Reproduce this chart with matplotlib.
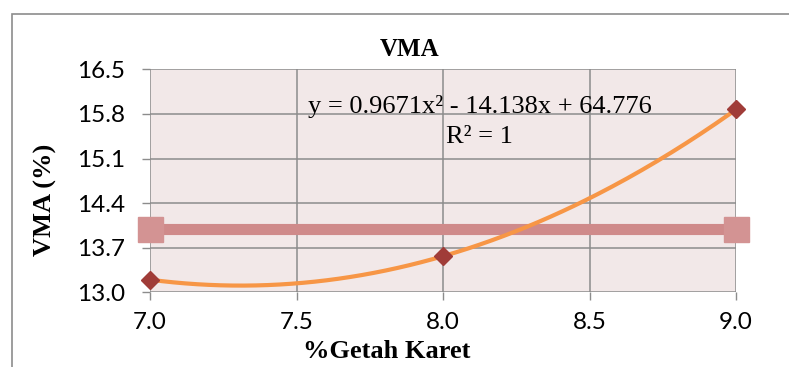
import numpy as np
import matplotlib
matplotlib.use("Agg")
import matplotlib.pyplot as plt
from matplotlib.patches import Rectangle

# data
getah = [7.0, 8.0, 9.0]
vma = [13.1979, 13.5664, 15.8691]
coef = [0.9671, -14.138, 64.776]
batas_x = [7.0, 9.0]
batas_y = [14.0, 14.0]
xticks = [7.0, 7.5, 8.0, 8.5, 9.0]
yticks = [13.0, 13.7, 14.4, 15.1, 15.8, 16.5]

serif = 'Liberation Serif'
tickfont = 'Lato'
grid_c = '#8c8c8c'

fig = plt.figure(figsize=(7.89, 3.67), dpi=100)
ax = fig.add_axes([150/789, 1 - 292.3/367, 586/789, 223/367])
ax.set_facecolor('#f2e8e8')

# outer chart border (only left/top fall inside the image)
fig.patches.append(Rectangle((12/789, -0.2), 1.2, 1.2 - 14/367, transform=fig.transFigure,
                             fill=False, edgecolor=grid_c, linewidth=1.2))

ax.set_xlim(7.0, 9.0)
ax.set_ylim(13.0, 16.5)
ax.set_xticks(xticks)
ax.set_yticks(yticks)
ax.set_xticklabels(['%.1f' % v for v in xticks], fontfamily=tickfont, fontsize=17.5)
ax.set_yticklabels(['%.1f' % v for v in yticks], fontfamily=tickfont, fontsize=17.5)
ax.tick_params(axis='both', length=6, width=1, color=grid_c)
ax.tick_params(axis='y', pad=12)
ax.tick_params(axis='x', pad=8)
ax.grid(True, color=grid_c, linewidth=1.1)
ax.set_axisbelow(True)
for s in ax.spines.values():
    s.set_visible(False)

# horizontal limit line
ax.plot(batas_x, batas_y, color='#cf8a8a', linewidth=8, solid_capstyle='butt',
        marker='s', markersize=18, markerfacecolor='#d39393', markeredgecolor='#d39393',
        clip_on=False, zorder=3)

# polynomial trendline
xs = np.linspace(7.0, 9.0, 200)
ax.plot(xs, np.polyval(coef, xs), color='#f79646', linewidth=3, zorder=4)

ax.plot(getah, vma, linestyle='none', marker='D', markersize=9,
        color='#a03c38', clip_on=False, zorder=5)

ax.text(8.126, 15.814, 'y = 0.9671x² - 14.138x + 64.776', fontfamily=serif,
        fontsize=19, ha='center', va='baseline')
ax.text(8.126, 15.35, 'R² = 1', fontfamily=serif, fontsize=19, ha='center', va='baseline')

fig.text(410/789, 1 - 50/367, 'VMA', fontfamily=serif, fontweight='bold',
         fontsize=18, ha='center', va='center')
fig.text(45/789, 1 - 200/367, 'VMA (%)', fontfamily=serif, fontweight='bold',
         fontsize=19, ha='center', va='center', rotation=90)
fig.text(387/789, 1 - 351/367, '%Getah Karet', fontfamily=serif, fontweight='bold',
         fontsize=19, ha='center', va='center')

fig.savefig('out.png', dpi=100)
